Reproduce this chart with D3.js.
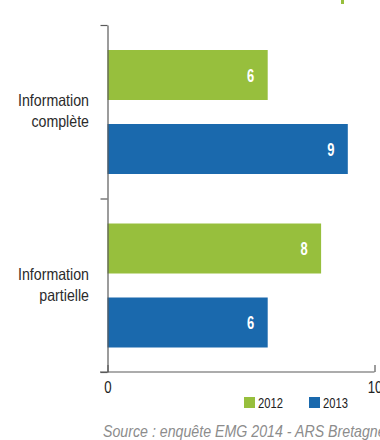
<!DOCTYPE html>
<html>
<head>
<meta charset="utf-8">
<script src="https://cdn.jsdelivr.net/npm/d3@7"></script>
<style>
  html, body { margin: 0; padding: 0; background: #fff; }
  svg { display: block; }
  text { font-family: "Liberation Sans", Arial, sans-serif; }
</style>
</head>
<body>
<svg id="chart" width="380" height="440"></svg>
<script>
// Survey categories and yearly counts
const categories = ["Information complète", "Information partielle"];
const categoryLines = [["Information", "complète"], ["Information", "partielle"]];
const years = ["2012", "2013"];
const values2012 = [6, 8];
const values2013 = [9, 6];
const xTicks = [0, 10];
const sourceText = "Source : enquête EMG 2014 - ARS Bretagne";

const colors = { "2012": "#97bf3d", "2013": "#1a69ad" };
const seriesValues = { "2012": values2012, "2013": values2013 };

// Squeeze a text node horizontally to mimic a condensed face
function condense(sel, factor) {
  sel.each(function () {
    const len = this.getComputedTextLength();
    d3.select(this).attr("textLength", len * factor).attr("lengthAdjust", "spacingAndGlyphs");
  });
}

const svg = d3.select("#chart");

// Scales
const x = d3.scaleLinear().domain([0, 10]).range([107.5, 374.5]);
const yTop = 25, yBottom = 372;
const y = d3.scaleBand().domain(categories).range([yTop, yBottom]).padding(0);
const yEdges = d3.scaleLinear().domain([0, categories.length]).range([yTop, yBottom]);
const ySub = d3.scaleBand().domain(years)
  .range([25, 149]).paddingInner(24 / 74).paddingOuter(0);

// Small green marker at the top edge
svg.append("rect").attr("x", 341).attr("y", 0).attr("width", 3).attr("height", 4)
  .attr("fill", colors["2012"]);

// Bars
const rows = [];
categories.forEach((c, i) => {
  years.forEach(yr => rows.push({ cat: c, year: yr, value: seriesValues[yr][i] }));
});

const bars = svg.append("g");
bars.selectAll("rect").data(rows).join("rect")
  .attr("x", x(0))
  .attr("y", d => y(d.cat) + ySub(d.year))
  .attr("width", d => x(d.value) - x(0))
  .attr("height", ySub.bandwidth())
  .attr("fill", d => colors[d.year]);

// Value labels inside bar ends
bars.selectAll("text").data(rows).join("text")
  .attr("x", d => x(d.value) - 17)
  .attr("y", d => y(d.cat) + ySub(d.year) + ySub.bandwidth() / 2)
  .attr("dy", "0.36em")
  .attr("text-anchor", "middle")
  .attr("fill", "#fff")
  .attr("font-weight", "bold")
  .attr("font-size", 18.5)
  .text(d => d.value)
  .call(condense, 0.7);

// Left axis with ticks at category boundaries
const leftAxis = svg.append("g")
  .attr("transform", "translate(107.5,0)")
  .call(d3.axisLeft(yEdges).tickValues(d3.range(categories.length + 1))
    .tickSize(7).tickSizeOuter(0).tickFormat(""));
leftAxis.selectAll("path, line").attr("stroke", "#5a5a5a").attr("stroke-width", 1.2);

// Bottom axis, ticks pointing inward
const bottomAxis = svg.append("g")
  .attr("transform", `translate(0,${yBottom})`)
  .call(d3.axisBottom(x).tickValues(xTicks).tickSize(-7).tickSizeOuter(0).tickPadding(9));
bottomAxis.select(".domain").attr("stroke", "#5a5a5a").attr("stroke-width", 1.2)
  .attr("d", `M100,0H${x(10)}`);
bottomAxis.selectAll("line").attr("stroke", "#5a5a5a").attr("stroke-width", 1.2);
bottomAxis.selectAll("text")
  .attr("font-size", 16.5).attr("fill", "#222")
  .style("font-family", '"Liberation Sans", Arial, sans-serif')
  .call(condense, 0.8);

// Category labels, two lines each, right-aligned against the axis
const catLabels = svg.append("g");
categories.forEach((c, i) => {
  const cy = y(c) + y.bandwidth() / 2;
  categoryLines[i].forEach((line, j) => {
    catLabels.append("text")
      .attr("x", 89).attr("y", cy - 5.5 + j * 21)
      .attr("text-anchor", "end")
      .attr("font-size", 16.5).attr("fill", "#2b2b2b")
      .text(line)
      .call(condense, 0.86);
  });
});

// Legend
const legend = svg.append("g");
const legendX = { "2012": 244, "2013": 309 };
years.forEach(yr => {
  legend.append("rect").attr("x", legendX[yr]).attr("y", 397)
    .attr("width", 11).attr("height", 11).attr("fill", colors[yr]);
  legend.append("text").attr("x", legendX[yr] + 14).attr("y", 407.5)
    .attr("font-size", 14).attr("fill", "#222").text(yr)
    .call(condense, 0.8);
});

// Source note
svg.append("text")
  .attr("x", 103).attr("y", 437)
  .attr("font-size", 16.5).attr("font-style", "italic").attr("fill", "#8c8c8c")
  .text(sourceText)
  .call(condense, 0.86);
</script>
</body>
</html>
